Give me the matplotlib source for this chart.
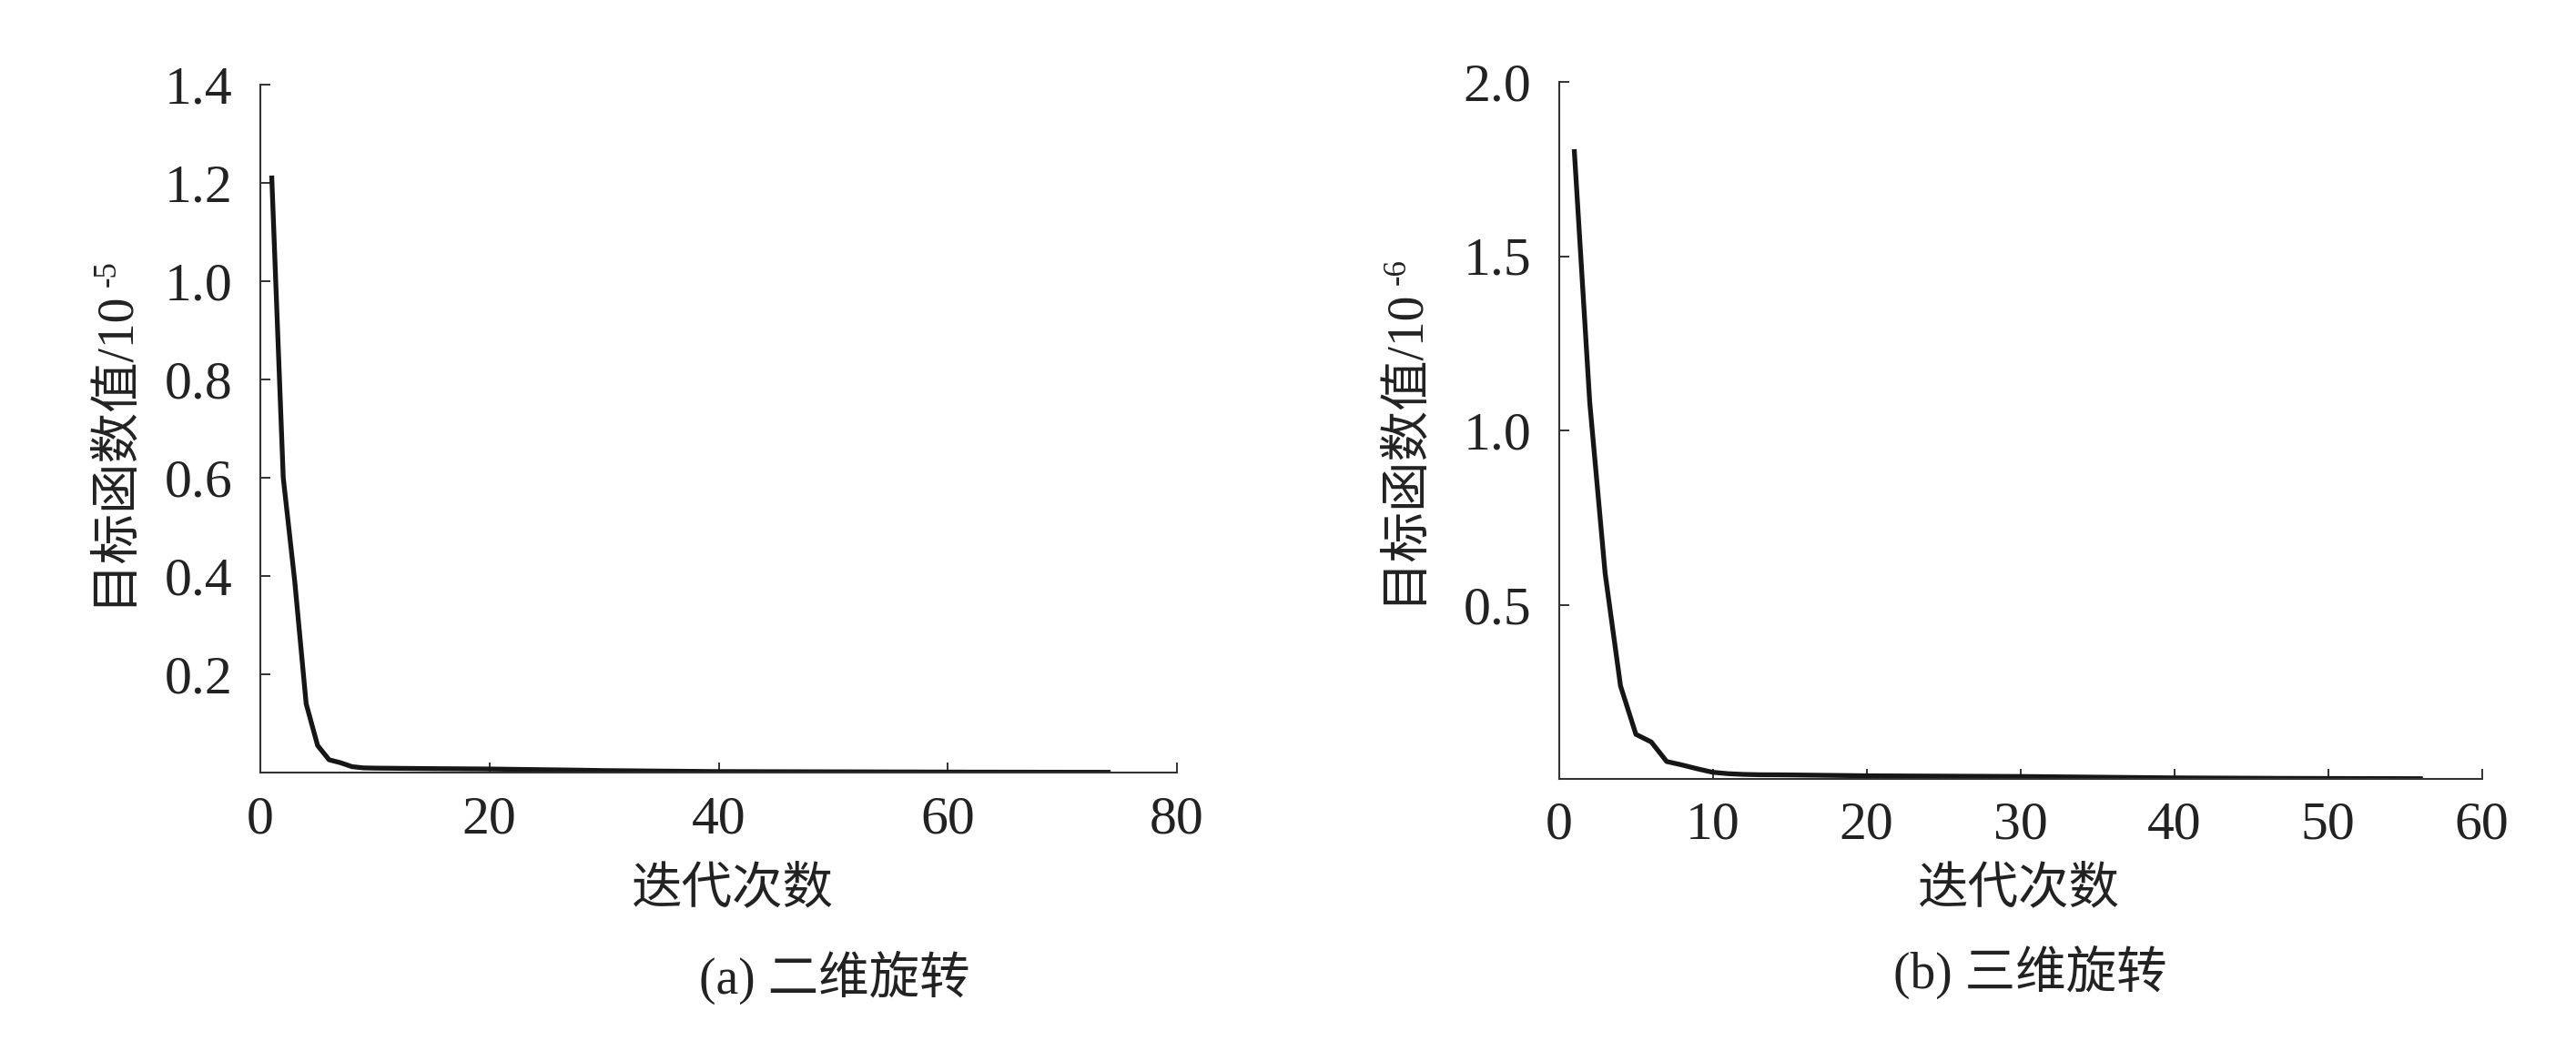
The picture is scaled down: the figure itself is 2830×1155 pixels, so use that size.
import matplotlib
matplotlib.use("Agg")
import matplotlib.pyplot as plt

# ---------------- data ----------------
iter_a = list(range(1, 75))
obj_a = [1.21, 0.60, 0.39, 0.14, 0.055, 0.026, 0.020, 0.012, 0.0095, 0.009,
         0.0088, 0.0086, 0.0084, 0.0082, 0.0080, 0.0078, 0.0077, 0.0075, 0.0074, 0.0072,
         0.0069, 0.0066, 0.0063, 0.0060, 0.0057, 0.0054, 0.0051, 0.0048, 0.0044, 0.0040,
         0.0038, 0.0036, 0.0034, 0.0032, 0.0030, 0.0028, 0.0026, 0.0024, 0.0022, 0.0020,
         0.0020, 0.0019, 0.0019, 0.0018, 0.0018, 0.0017, 0.0017, 0.0016, 0.0016, 0.0015,
         0.0015, 0.0014, 0.0014, 0.0013, 0.0013, 0.0012, 0.0012, 0.0011, 0.0011, 0.0010,
         0.0010, 0.0009, 0.0009, 0.0009, 0.0008, 0.0008, 0.0008, 0.0007, 0.0007, 0.0007,
         0.0006, 0.0006, 0.0006, 0.0005]

iter_b = list(range(1, 57))
obj_b = [1.80, 1.08, 0.59, 0.267, 0.128, 0.106, 0.050, 0.040, 0.029, 0.019,
         0.015, 0.013, 0.012, 0.0118, 0.0115, 0.011, 0.0105, 0.010, 0.0095, 0.009,
         0.0088, 0.0086, 0.0084, 0.0082, 0.0080, 0.0078, 0.0076, 0.0074, 0.0072, 0.0070,
         0.0066, 0.0062, 0.0058, 0.0054, 0.0050, 0.0046, 0.0042, 0.0038, 0.0034, 0.0030,
         0.0028, 0.0026, 0.0024, 0.0022, 0.0020, 0.0018, 0.0016, 0.0015, 0.0014, 0.0013,
         0.0012, 0.0011, 0.0010, 0.0009, 0.0008, 0.0007]

xticks_a = [0, 20, 40, 60, 80]
yticks_a = [0.2, 0.4, 0.6, 0.8, 1.0, 1.2, 1.4]
xticks_b = [0, 10, 20, 30, 40, 50, 60]
yticks_b = [0.5, 1.0, 1.5, 2.0]

ylabel_a = "目标函数值/10"
ylabel_a_exp = "-5"
ylabel_b = "目标函数值/10"
ylabel_b_exp = "-6"
xlabel = "迭代次数"
caption_a = "(a) 二维旋转"
caption_b = "(b) 三维旋转"

# ---------------- style ----------------
plt.rcParams['font.family'] = ['Liberation Serif', 'Noto Sans CJK SC']

W, H = 2830, 1155
fig = plt.figure(figsize=(W / 100, H / 100), dpi=100)

line_color = '#161616'
axis_color = '#333333'
text_color = '#222222'


def style_axes(ax, xticks, yticks, xlim, ylim):
    ax.set_xlim(*xlim)
    ax.set_ylim(*ylim)
    ax.spines['top'].set_visible(False)
    ax.spines['right'].set_visible(False)
    for s in ('left', 'bottom'):
        ax.spines[s].set_linewidth(1.5)
        ax.spines[s].set_color(axis_color)
    ax.set_xticks(xticks)
    ax.set_yticks(yticks)
    ax.set_xticklabels([f"{t:g}" for t in xticks])
    ax.set_yticklabels([f"{t:.1f}" for t in yticks])
    ax.tick_params(axis='both', direction='in', length=8, width=1.4,
                   colors=axis_color, labelcolor=text_color, labelsize=43)
    ax.tick_params(axis='x', pad=18)
    ax.tick_params(axis='y', pad=22)


# Left panel
ax1 = fig.add_axes([286 / W, 1 - 849 / H, 1007 / W, 756 / H])
ax1.plot(iter_a, obj_a, color=line_color, lw=3.8, solid_joinstyle='round')
style_axes(ax1, xticks_a, yticks_a, (0, 80), (0, 1.4))

# Right panel
ax2 = fig.add_axes([1712.7 / W, 1 - 856 / H, 1014 / W, 766 / H])
ax2.plot(iter_b, obj_b, color=line_color, lw=3.8, solid_joinstyle='round')
style_axes(ax2, xticks_b, yticks_b, (0, 60), (0, 2.0))

# Y axis labels with superscript exponent
t1 = fig.text(124 / W, 1 - 492 / H, ylabel_a, rotation=90, ha='center', va='center',
              fontsize=40, color=text_color)
ax1.annotate(ylabel_a_exp, xy=(0.08, 1.0), xycoords=t1, xytext=(0, 2),
             textcoords='offset points', rotation=90, ha='left', va='bottom',
             fontsize=25, color=text_color, annotation_clip=False)

t2 = fig.text(1541 / W, 1 - 490 / H, ylabel_b, rotation=90, ha='center', va='center',
              fontsize=40, color=text_color)
ax2.annotate(ylabel_b_exp, xy=(0.08, 1.0), xycoords=t2, xytext=(0, 2),
             textcoords='offset points', rotation=90, ha='left', va='bottom',
             fontsize=25, color=text_color, annotation_clip=False)

# X axis labels
fig.text(805 / W, 1 - 978 / H, xlabel, ha='center', va='center', fontsize=40, color=text_color)
fig.text(2218 / W, 1 - 978 / H, xlabel, ha='center', va='center', fontsize=40, color=text_color)

# Captions
fig.text(917 / W, 1 - 1074 / H, caption_a, ha='center', va='center', fontsize=40, color=text_color)
fig.text(2230 / W, 1 - 1068 / H, caption_b, ha='center', va='center', fontsize=40, color=text_color)

fig.savefig("out.png", dpi=100, facecolor='white')
